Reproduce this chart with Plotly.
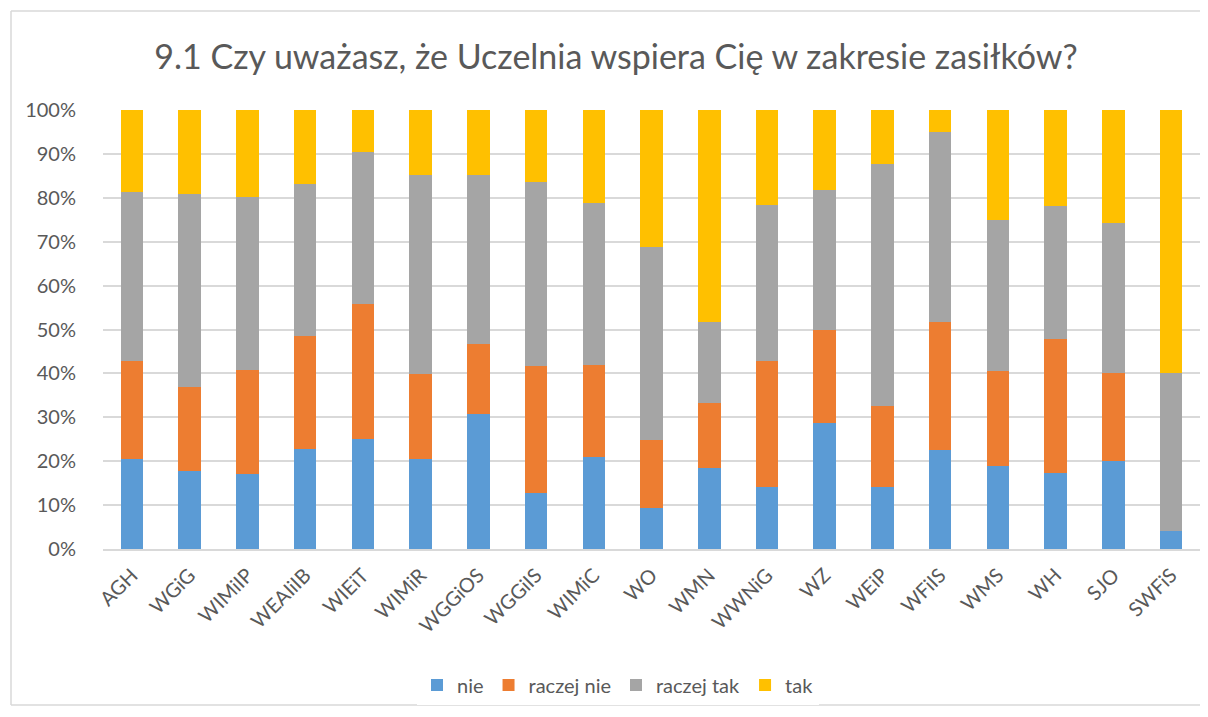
import plotly.graph_objects as go

categories = ["AGH", "WGiG", "WIMiIP", "WEAIiIB", "WIEiT", "WIMiR", "WGGiOS", "WGGiIS", "WIMiC", "WO",
              "WMN", "WWNiG", "WZ", "WEiP", "WFiIS", "WMS", "WH", "SJO", "SWFiS"]
nie = [20.4, 17.8, 17.1, 22.7, 25.0, 20.5, 30.7, 12.7, 20.9, 9.3,
       18.5, 14.2, 28.6, 14.2, 22.5, 18.8, 17.4, 20.0, 4.0]
raczej_nie = [22.4, 19.1, 23.6, 25.9, 30.9, 19.3, 15.9, 29.1, 21.0, 15.6,
              14.8, 28.6, 21.4, 18.4, 29.1, 21.8, 30.4, 20.0, 0.0]
raczej_tak = [38.5, 44.0, 39.5, 34.5, 34.5, 45.3, 38.5, 41.8, 37.0, 43.8,
              18.5, 35.6, 31.8, 55.1, 43.5, 34.4, 30.4, 34.3, 36.0]
tak = [18.7, 19.1, 19.8, 16.9, 9.6, 14.9, 14.9, 16.4, 21.1, 31.3,
       48.2, 21.6, 18.2, 12.3, 4.9, 25.0, 21.8, 25.7, 60.0]
y_ticks = [0, 10, 20, 30, 40, 50, 60, 70, 80, 90, 100]
y_tick_labels = [f"{v}%" for v in y_ticks]

series = [("nie", nie, "#5B9BD5"), ("raczej nie", raczej_nie, "#ED7D31"),
          ("raczej tak", raczej_tak, "#A5A5A5"), ("tak", tak, "#FFC000")]

FONT = "Lato"
TXT = "#595959"

fig = go.Figure()
for name, vals, col in series:
    fig.add_trace(go.Bar(x=categories, y=vals, name=name, marker=dict(color=col, line=dict(width=0))))

# page has an 8px body margin; work in figure pixel coords (reference minus 8)
OFF = 8
W, H = 1192, 701
ml, mr, mt = 103 - OFF, 0, 110 - OFF
mb = H - (549 - OFF)
pw, ph = W - ml - mr, H - mt - mb

def px_to_paper_x(px):
    return (px - OFF - ml) / pw

def px_to_paper_y(py):
    return (H - mb - (py - OFF)) / ph

fig.update_layout(
    width=W, height=H,
    margin=dict(l=ml, r=mr, t=mt, b=mb, pad=0),
    barmode="stack", bargap=0.61,
    paper_bgcolor="white", plot_bgcolor="white",
    font=dict(family=FONT, color=TXT, size=18),
    title=dict(text="9.1 Czy uważasz, że Uczelnia wspiera Cię w zakresie zasiłków?",
               x=(616 - OFF) / W, xanchor="center", xref="container",
               y=1 - (57 - OFF) / H, yanchor="middle", yref="container",
               font=dict(family=FONT, size=34, color=TXT)),
    showlegend=True,
    legend=dict(orientation="h", x=px_to_paper_x(618), xanchor="center",
                y=px_to_paper_y(685), yanchor="middle",
                font=dict(family=FONT, size=20, color=TXT), traceorder="normal",
                itemwidth=30),
    xaxis=dict(tickangle=-45, showline=True, linecolor="#D9D9D9", linewidth=1.5,
               ticks="", ticklabelstandoff=5,
               tickfont=dict(family=FONT, size=20, color=TXT), showgrid=False),
    yaxis=dict(range=[0, 100], tickvals=y_ticks, ticktext=y_tick_labels, showgrid=True,
               gridcolor="#D9D9D9", gridwidth=1.5, zeroline=False, ticks="", ticklen=0,
               ticklabelstandoff=26,
               tickfont=dict(family=FONT, size=20, color=TXT)),
)

# chart-area border (top, left, bottom; the right edge lies outside the picture)
bx0, bx1 = px_to_paper_x(11), px_to_paper_x(1300)
by0, by1 = px_to_paper_y(705), px_to_paper_y(11)
for (xa, ya, xb, yb) in [(bx0, by1, bx1, by1), (bx0, by0, bx0, by1), (bx0, by0, bx1, by0)]:
    fig.add_shape(type="line", xref="paper", yref="paper", x0=xa, y0=ya, x1=xb, y1=yb,
                  line=dict(color="#D9D9D9", width=1.5), layer="below")

fig.write_html("out.html")
